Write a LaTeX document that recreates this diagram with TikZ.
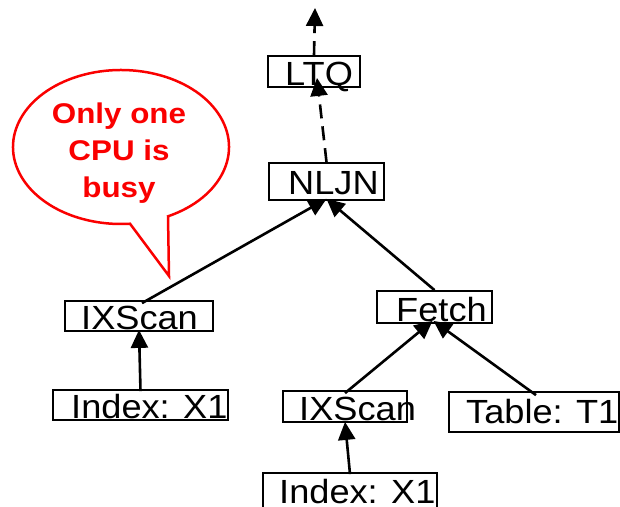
\documentclass[tikz,border=0pt]{standalone}
\usepackage{fontspec}
\setmainfont{Liberation Sans}
\usetikzlibrary{arrows.meta,calc}

\definecolor{callred}{RGB}{250,0,0}

\tikzset{
  opbox/.style={draw=black, line width=1.8pt, fill=white, rectangle, inner sep=0pt},
  oplabel/.style={anchor=base west, inner sep=0pt, font=\fontsize{33.5}{36}\selectfont, xscale=1.08, transform shape},
  flow/.style={line width=2.6pt, -{Triangle[length=18pt,width=17pt]}},
  flowdash/.style={flow, dash pattern=on 14pt off 8pt},
  calltext/.style={text=callred, font=\bfseries\fontsize{28.5}{37}\selectfont, align=center, inner sep=0pt, xscale=1.1, transform shape}
}

\begin{document}
\begin{tikzpicture}[x=1pt, y=-1pt]
  \useasboundingbox (0,0) rectangle (620,506);
  \clip (0,0) rectangle (620,506);

  % operator boxes
  \node[opbox, minimum width=92pt,  minimum height=31pt] (ltq)   at (314,71.5)  {};
  \node[opbox, minimum width=115pt, minimum height=37pt] (nljn)  at (326.5,181.5) {};
  \node[opbox, minimum width=148pt, minimum height=30pt] (ixl)   at (139,316)   {};
  \node[opbox, minimum width=115pt, minimum height=32pt] (fetch) at (434.5,307) {};
  \node[opbox, minimum width=124pt, minimum height=31pt] (ixr)   at (345,406.5) {};
  \node[opbox, minimum width=170pt, minimum height=40pt] (tab)   at (534,412)   {};
  \node[opbox, minimum width=175pt, minimum height=30pt] (idxl)  at (140.5,405) {};
  \node[opbox, minimum width=174pt, minimum height=37pt] (idxb)  at (350,491.5) {};

  % operator names
  \node[oplabel] (ltqt)   at (285,85)  {LTQ};
  \node[oplabel] (nljnt)  at (288,194) {NLJN};
  \node[oplabel] (ixlt)   at (81,329)  {IXScan};
  \node[oplabel] (fetcht) at (396,321) {Fetch};
  \node[oplabel] (ixrt)   at (299,420) {IXScan};
  \node[oplabel] (tabt)   at (466,423) {Table: T1};
  \node[oplabel] (idxlt)  at (71,418)  {Index: X1};
  \node[oplabel] (idxbt)  at (279,503) {Index: X1};

  % top output
  \coordinate (out) at (315,8);
  \draw[flowdash] (ltq.north) -- (out);
  \draw[flowdash] (nljn.north) -- ([xshift=3pt,yshift=10pt]ltq.south);

  % join inputs
  \draw[flow] ([xshift=3pt,yshift=-3pt]ixl.north) -- ([yshift=2pt]nljn.south);
  \draw[flow] (fetch.north) -- ([yshift=2pt]nljn.south);

  % fetch inputs
  \draw[flow] ([yshift=-3pt]ixr.north) -- ([xshift=-2pt,yshift=3pt]fetch.south);
  \draw[flow] ([xshift=2pt,yshift=-4pt]tab.north) -- ([xshift=-1pt,yshift=3pt]fetch.south);

  % scans from indexes
  \draw[flow] ([yshift=-2pt]idxl.north) -- ([yshift=2pt]ixl.south);
  \draw[flow] ([yshift=-2pt]idxb.north) -- ([yshift=1pt]ixr.south);

  % speech bubble
  \coordinate (bc) at (121,147);
  \coordinate (btip) at (169,276);
  \draw[callred, line width=2.5pt, fill=white, line join=miter]
    (bc) ++(64.2:108 and 77)
    arc[start angle=64.2, end angle=-274.8, x radius=108, y radius=77]
    -- (btip) -- cycle;
  \node[calltext] (callt) at (119,153) {Only one\\CPU is\\busy};
\end{tikzpicture}
\end{document}
